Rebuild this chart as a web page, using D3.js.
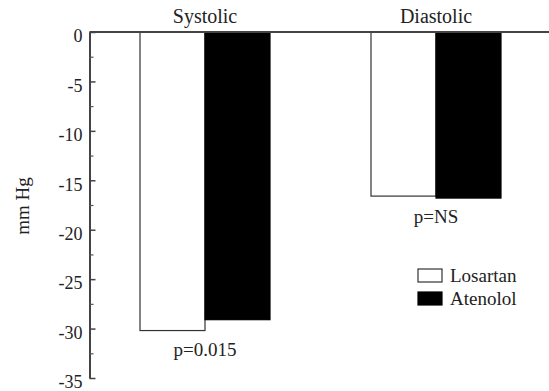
<!DOCTYPE html>
<html><head><meta charset="utf-8">
<script src="https://cdn.jsdelivr.net/npm/d3@7"></script>
<style>body{margin:0;background:#fff}svg{display:block}text{font-family:"Liberation Serif","Times New Roman",serif;fill:#222}</style>
</head><body>
<svg id="c" width="549" height="391"></svg>
<script>
const categories = ["Systolic", "Diastolic"];
const seriesNames = ["Losartan", "Atenolol"];
const losartan = [-30.2, -16.6];
const atenolol = [-29.1, -16.8];
const pLabels = ["p=0.015", "p=NS"];
const yTicks = [0, -5, -10, -15, -20, -25, -30, -35];
const yMinorTicks = [-2.5, -7.5, -12.5, -17.5, -22.5, -27.5, -32.5];

(function () {
const svg = d3.select("#c");
const axisX = 89.5, plotTop = 32, plotBottom = 378;
const y = d3.scaleLinear().domain([0, -35]).range([plotTop, plotBottom]);
const x = d3.scaleBand().domain(categories).range([axisX, 551.5]).padding(0);
const sub = d3.scaleBand().domain(seriesNames)
  .range([x.bandwidth()/2 - 65, x.bandwidth()/2 + 65]).padding(0);
const fills = {Losartan: "#fff", Atenolol: "#000"};

const data = [];
categories.forEach((c, i) => {
  data.push({c, s: "Losartan", v: losartan[i]});
  data.push({c, s: "Atenolol", v: atenolol[i]});
});
svg.append("g").selectAll("rect").data(data).join("rect")
  .attr("x", d => x(d.c) + sub(d.s))
  .attr("y", y(0))
  .attr("width", sub.bandwidth())
  .attr("height", d => y(d.v) - y(0))
  .attr("fill", d => fills[d.s])
  .attr("stroke", d => d.s === "Losartan" ? "#333" : "#000")
  .attr("stroke-width", 1.2);

svg.append("line").attr("x1", axisX).attr("x2", 549)
  .attr("y1", y(0)).attr("y2", y(0)).attr("stroke", "#444").attr("stroke-width", 2);

const ax = svg.append("g").attr("transform", `translate(${axisX},0)`)
  .call(d3.axisLeft(y).tickValues(yTicks).tickSize(-6).tickPadding(7).tickSizeOuter(0)
    .tickFormat(d => d === 0 ? "0" : String(d)));
ax.attr("font-family", null).attr("font-size", null);
ax.select(".domain").attr("stroke", "#444").attr("stroke-width", 2);
ax.selectAll(".tick line").attr("stroke", "#444").attr("stroke-width", 1.5);
ax.selectAll(".tick text").attr("font-size", 18).attr("dy", "0.54em").attr("fill", "#222");
const mn = svg.append("g").attr("transform", `translate(${axisX},0)`)
  .call(d3.axisLeft(y).tickValues(yMinorTicks).tickSize(-4).tickFormat(""));
mn.select(".domain").remove();
mn.selectAll(".tick line").attr("stroke", "#555").attr("stroke-width", 1.2);

svg.append("g").selectAll("text").data(categories).join("text")
  .attr("x", d => x(d) + x.bandwidth()/2).attr("y", 23)
  .attr("text-anchor", "middle").attr("font-size", 20).text(d => d);

svg.append("g").selectAll("text").data(categories).join("text")
  .attr("x", d => x(d) + x.bandwidth()/2)
  .attr("y", (d, i) => y(Math.min(losartan[i], atenolol[i])) + 25)
  .attr("text-anchor", "middle").attr("font-size", 19).text((d, i) => pLabels[i]);

svg.append("text").attr("transform", "translate(29,206) rotate(-90)")
  .attr("text-anchor", "middle").attr("font-size", 19).text("mm Hg");

const lg = svg.append("g").attr("transform", "translate(418,269)");
seriesNames.forEach((s, i) => {
  lg.append("rect").attr("x", 0).attr("y", i * 23).attr("width", 24).attr("height", 13)
    .attr("fill", fills[s]).attr("stroke", s === "Losartan" ? "#333" : "#000").attr("stroke-width", 1.2);
  lg.append("text").attr("x", 32).attr("y", i * 23 + 13).attr("font-size", 19).text(s);
});
})();
</script>
</body></html>
